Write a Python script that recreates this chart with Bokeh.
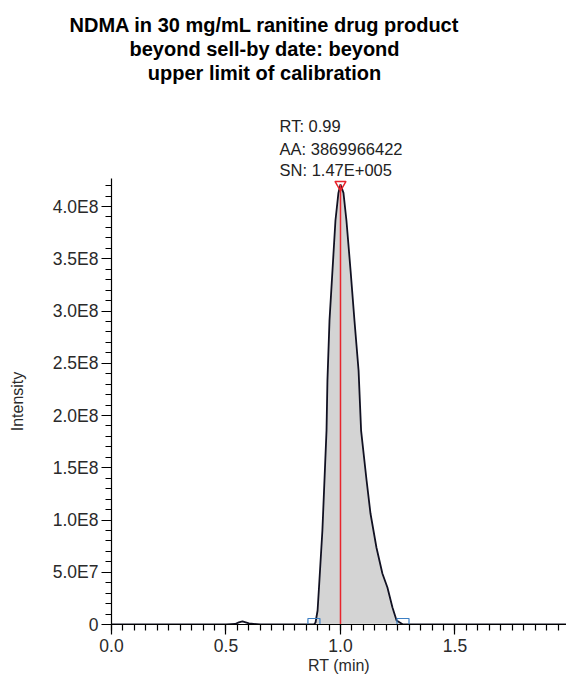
import numpy as np
from bokeh.plotting import figure
from bokeh.layouts import column
from bokeh.models import FixedTicker, Range1d, ColumnDataSource, Title
from bokeh.core.properties import value
from bokeh.embed import file_html
from bokeh.resources import INLINE

# ---- data ----
title_lines = ["NDMA in 30 mg/mL ranitine drug product",
               "beyond sell-by date: beyond",
               "upper limit of calibration"]

rt = [0.0, 0.50, 0.54, 0.556, 0.572, 0.60, 0.65, 0.86, 0.884,
      0.891, 0.900, 0.908, 0.921, 0.930, 0.939, 0.943, 0.952, 0.965, 0.978, 0.991, 1.000,
      1.013, 1.026, 1.044, 1.061, 1.079, 1.090, 1.114, 1.131, 1.157, 1.183, 1.205, 1.227, 1.245, 1.273,
      1.30, 1.99]
intensity = [0, 0, 5e5, 2e6, 3e6, 1e6, 0, 0, 0,
             1.9e6, 1.34e7, 4.21e7, 9.0e7, 1.378e8, 1.856e8, 2.335e8, 2.909e8, 3.388e8, 3.866e8, 4.13e8, 4.21e8,
             4.13e8, 3.866e8, 3.388e8, 2.909e8, 2.431e8, 1.856e8, 1.378e8, 1.062e8, 7.37e7, 4.88e7, 3.54e7, 1.63e7, 3.8e6, 0,
             0, 0]

peak_start = 0.884
peak_end = 1.273
apex_rt = 1.0
apex_int = 4.21e8
peak_info = ["RT: 0.99", "AA: 3869966422", "SN: 1.47E+005"]

x_tick_values = [0.0, 0.5, 1.0, 1.5]
x_tick_labels = ["0.0", "0.5", "1.0", "1.5"]
y_tick_values = [0, 50000000, 100000000, 150000000, 200000000,
                 250000000, 300000000, 350000000, 400000000]
y_tick_labels = ["0", "5.0E7", "1.0E8", "1.5E8", "2.0E8",
                 "2.5E8", "3.0E8", "3.5E8", "4.0E8"]

FONT = "Liberation Sans"
X_END = 1.987
Y_FRAME_TOP = 4.268e8
Y_HEAD_TOP = 5.177e8

# ---- chart ----
p = figure(width=566, height=499, output_backend="svg", toolbar_location=None,
           title_location=None,
           x_range=Range1d(0, X_END), y_range=Range1d(0, Y_FRAME_TOP),
           min_border_left=111, min_border_right=0, min_border_top=0,
           min_border_bottom=53)
p.xgrid.visible = False
p.ygrid.visible = False
p.outline_line_color = None

rt_a = np.array(rt)
in_a = np.array(intensity)
mask = (rt_a >= peak_start) & (rt_a <= peak_end)
p.varea(x=rt_a[mask], y1=np.zeros(mask.sum()), y2=in_a[mask], fill_color="#d4d4d4")
p.line(rt, intensity, line_color="#111122", line_width=1.8)
p.segment(x0=[apex_rt], y0=[0], x1=[apex_rt], y1=[apex_int], line_color="#e8242c", line_width=1.5)
p.scatter([apex_rt], [apex_int], marker="inverted_triangle", size=11,
          fill_alpha=0, line_color="#e8242c", line_width=1.5)
p.scatter([peak_start, peak_end], [0, 0], marker="square", size=12,
          fill_alpha=0, line_color="#3c7fc4", line_width=1.2)

xa = p.xaxis[0]
xa.ticker = FixedTicker(ticks=x_tick_values,
                        minor_ticks=list(np.round(np.arange(0, 1.99, 0.05), 2)))
xa.major_label_overrides = dict(zip(x_tick_values, x_tick_labels))
ya = p.yaxis[0]
ya.ticker = FixedTicker(ticks=y_tick_values, minor_ticks=list(np.arange(0, 4.21e8, 1e7)))
ya.major_label_overrides = dict(zip(y_tick_values, y_tick_labels))
for ax in (xa, ya):
    ax.axis_line_color = "black"
    ax.axis_line_width = 1.2
    ax.major_tick_line_color = "black"
    ax.minor_tick_line_color = "black"
    ax.major_tick_line_width = 1.2
    ax.minor_tick_line_width = 1.2
    ax.major_tick_in = 0
    ax.major_tick_out = 10
    ax.minor_tick_in = 0
    ax.minor_tick_out = 6
    ax.major_label_text_font = FONT
    ax.major_label_text_font_size = "17.5px"
    ax.major_label_text_color = "#2a2a2a"
    ax.axis_label_text_font = FONT
    ax.axis_label_text_font_style = "normal"
    ax.axis_label_text_color = "#2a2a2a"
xa.major_label_standoff = 4
ya.major_label_standoff = 3
xa.axis_label = "RT (min)"
xa.axis_label_text_font_size = "16px"
xa.axis_label_standoff = 2
ya.axis_label = "Intensity"
ya.axis_label_text_font_size = "16px"
ya.axis_label_standoff = 24

# ---- heading strip: title (side titles, free of frame clipping) + peak annotation ----
h = figure(width=566, height=178, output_backend="svg", toolbar_location=None,
           title_location=None, x_axis_type=None, y_axis_type=None,
           x_range=Range1d(0, X_END), y_range=Range1d(Y_FRAME_TOP, Y_HEAD_TOP),
           min_border_left=111, min_border_right=0, min_border_top=83,
           min_border_bottom=0)
h.xgrid.visible = False
h.ygrid.visible = False
h.outline_line_color = None

title_offsets = [-42, 18, 36.3]
for txt, off in reversed(list(zip(title_lines, title_offsets))):
    h.add_layout(Title(text=txt, align="left", offset=off, standoff=0,
                       text_font=FONT, text_font_style="bold",
                       text_font_size="20px", text_color="black"), "above")

info_src = ColumnDataSource(dict(x=[0.734] * 3, y=[4.766e8, 4.555e8, 4.354e8], text=peak_info))
h.text(x="x", y="y", text="text", source=info_src, text_align="left",
       text_baseline="alphabetic", text_font=value(FONT),
       text_font_size="16.5px", text_color="#222222")

layout = column(h, p, spacing=0)
open("out.html", "w").write(file_html(layout, INLINE))
